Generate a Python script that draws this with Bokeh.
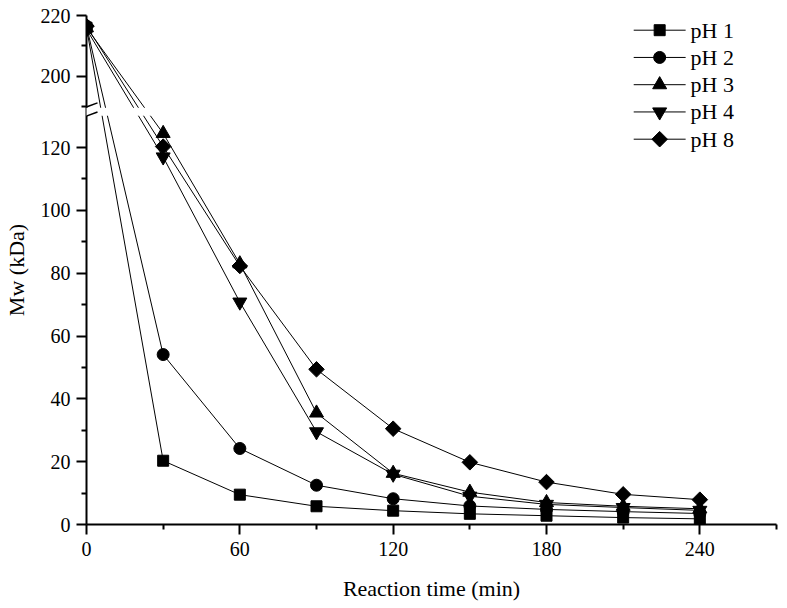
import numpy as np
from bokeh.plotting import figure
from bokeh.models import Range1d, FixedTicker, BoxAnnotation, Arrow
from bokeh.core.properties import value
from bokeh.embed import file_html
from bokeh.resources import INLINE

# ---------------- data ----------------
time_min = [0, 30, 60, 90, 120, 150, 180, 210, 240]
mw_ph1 = [216.0, 20.3, 9.5, 5.8, 4.4, 3.4, 2.8, 2.2, 1.8]
mw_ph2 = [216.5, 54.1, 24.2, 12.5, 8.2, 5.9, 4.8, 4.1, 3.5]
mw_ph3 = [216.0, 124.5, 83.0, 35.5, 16.3, 10.3, 7.0, 5.8, 5.0]
mw_ph4 = [215.5, 117.0, 70.8, 29.5, 16.0, 9.0, 6.4, 5.4, 4.5]
mw_ph8 = [216.5, 120.3, 82.3, 49.4, 30.5, 19.8, 13.5, 9.6, 7.9]
series_labels = ["pH 1", "pH 2", "pH 3", "pH 4", "pH 8"]

x_major = [0, 60, 120, 180, 240]
x_minor = [30, 90, 150, 210, 270]
y_major = [0, 20, 40, 60, 80, 100, 120, 200, 220]
y_minor = [10, 30, 50, 70, 90, 110, 190, 210]

# ---------------- broken axis ----------------
BREAK_LO = 130.0
BREAK_HI = 190.0
Y_TOP = 220.0
GAP = 2.93
UPPER_SCALE = 0.970


def brk(v):
    if v <= BREAK_LO:
        return float(v)
    return BREAK_LO + GAP + (v - BREAK_HI) * UPPER_SCALE


FONT = "Liberation Serif"
W, H = 787, 608
BL, BR, BT, BB = 85, 11, 15, 84
FRAME_W, FRAME_H = W - BL - BR, H - BT - BB

p = figure(width=W, height=H, x_range=Range1d(0, 270), y_range=Range1d(0, brk(Y_TOP)),
           output_backend="svg", toolbar_location=None,
           min_border_left=BL, min_border_right=BR, min_border_top=BT, min_border_bottom=BB)
p.xgrid.visible = False
p.ygrid.visible = False
p.outline_line_color = None
p.background_fill_color = "white"
p.border_fill_color = "white"

p.xaxis.ticker = FixedTicker(ticks=x_major, minor_ticks=x_minor)
p.yaxis.ticker = FixedTicker(ticks=[brk(v) for v in y_major], minor_ticks=[brk(v) for v in y_minor])
p.yaxis.major_label_overrides = {brk(v): str(v) for v in y_major}
p.xaxis.axis_label = "Reaction time (min)"
p.yaxis.axis_label = "Mw (kDa)"

for ax in (p.xaxis[0], p.yaxis[0]):
    ax.axis_line_width = 2
    ax.axis_line_color = "black"
    ax.major_tick_line_width = 2
    ax.minor_tick_line_width = 2
    ax.major_tick_line_color = "black"
    ax.minor_tick_line_color = "black"
    ax.major_tick_out = 10
    ax.major_tick_in = 0
    ax.minor_tick_out = 5
    ax.minor_tick_in = 0
    ax.major_label_text_font = FONT
    ax.major_label_text_font_size = "20px"
    ax.major_label_text_color = "black"
    ax.axis_label_text_font = FONT
    ax.axis_label_text_font_size = "22px"
    ax.axis_label_text_font_style = "normal"
    ax.axis_label_text_color = "black"
p.xaxis.major_label_standoff = 7
p.yaxis.major_label_standoff = 6
p.xaxis.axis_label_standoff = 17
p.yaxis.axis_label_standoff = 9

series = [mw_ph1, mw_ph2, mw_ph3, mw_ph4, mw_ph8]
markers = [("square", 11, 0.0), ("circle", 12, 0.0), ("triangle", 14, 0.0),
           ("inverted_triangle", 14, 0.0), ("square", 11, np.pi / 4)]

for vals, (mk, sz, ang) in zip(series, markers):
    yt = [brk(v) for v in vals]
    p.line(time_min, yt, line_color="black", line_width=1)
    p.scatter(time_min, yt, marker=mk, size=sz, angle=ang,
              fill_color="black", line_color="black")

# white gap across the break (lines and axis)
band = BoxAnnotation(left=-6, right=45, bottom=BREAK_LO + 0.15, top=brk(BREAK_HI) - 0.3,
                     fill_color="white", fill_alpha=1.0, line_color=None, line_alpha=0)
p.add_layout(band)
for yb in (brk(BREAK_HI), BREAK_LO):
    p.add_layout(Arrow(end=None, x_start=-4.3, y_start=yb - 1.3, x_end=4.3, y_end=yb + 1.3,
                       line_color="black", line_width=1.5))

# ---------------- legend (frame pixel coordinates) ----------------
p.extra_x_ranges = {"lx": Range1d(0, FRAME_W)}
p.extra_y_ranges = {"ly": Range1d(0, FRAME_H)}
LEG_X0, LEG_W, LEG_TOP, LEG_PITCH, LEG_GAP = 548, 52, 494.3, 27.25, 5
for i, (lab, (mk, sz, ang)) in enumerate(zip(series_labels, markers)):
    ly = LEG_TOP - i * LEG_PITCH
    p.segment(x0=[LEG_X0], y0=[ly], x1=[LEG_X0 + LEG_W], y1=[ly], line_color="black",
              line_width=1, x_range_name="lx", y_range_name="ly")
    p.scatter([LEG_X0 + LEG_W / 2], [ly], marker=mk, size=sz, angle=ang, fill_color="black",
              line_color="black", x_range_name="lx", y_range_name="ly")
    p.text([LEG_X0 + LEG_W + LEG_GAP], [ly], text=[lab], text_font=value(FONT),
           text_font_size="22px", text_baseline="middle", text_align="left",
           text_color="black", x_range_name="lx", y_range_name="ly")

open("out.html", "w").write(file_html(p, INLINE))
